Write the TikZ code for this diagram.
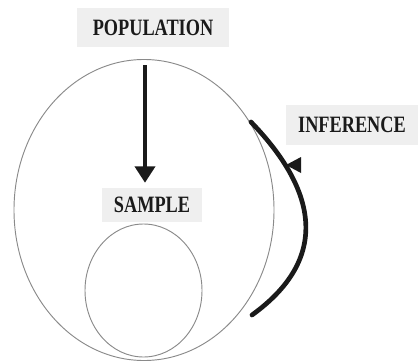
\documentclass[tikz,border=0pt]{standalone}
\usepackage{fontspec}
\usetikzlibrary{shapes.geometric,arrows.meta}
\newfontfamily\lblfont[FakeStretch=0.78]{Liberation Serif}
\definecolor{lblgray}{HTML}{EFEFEF}
\definecolor{setgray}{HTML}{8A8A8A}
\definecolor{inkblack}{HTML}{1A1A1A}

\begin{document}
\begin{tikzpicture}[x=0.03cm,y=-0.03cm,
  lbl/.style={fill=lblgray,text=inkblack,inner sep=0pt,
    font=\lblfont\bfseries\fontsize{20}{22}\selectfont},
  setline/.style={ellipse,draw=setgray,line width=0.8pt,inner sep=0pt,outer sep=0pt},
  bigarrow/.style={inkblack,line width=3.4pt,-{Triangle[width=17pt,length=14pt]}},
  infline/.style={inkblack,line width=4pt,line cap=round}]
\useasboundingbox (0,0) rectangle (420,363);
% the two sets
\node[setline,minimum width=7.8cm,minimum height=9.03cm] (popset) at (144,210) {};
\node[setline,minimum width=3.51cm,minimum height=3.99cm] (sampleset) at (143.5,290.5) {};
% labels
\node[lbl,minimum width=4.56cm,minimum height=1.17cm] (pop) at (153,27.5) {POPULATION};
\node[lbl,minimum width=3.0cm,minimum height=1.02cm] (sample) at (152,205) {SAMPLE};
\node[lbl,minimum width=3.96cm,minimum height=1.2cm] (infer) at (352,125) {INFERENCE};
% drawing the sample
\draw[bigarrow,shorten <=0.54cm,shorten >=0.15cm] ([xshift=-0.24cm]pop.south) -- ([xshift=-0.21cm]sample.north);
% inference back to the population
\coordinate (infstart) at (251,122);
\coordinate (infend) at (252,315);
\draw[infline] (infstart) .. controls (312,185) and (335,255) .. (infend);
\fill[inkblack] (286,165) -- (301,157) -- (301,173) -- cycle;
\end{tikzpicture}
\end{document}
